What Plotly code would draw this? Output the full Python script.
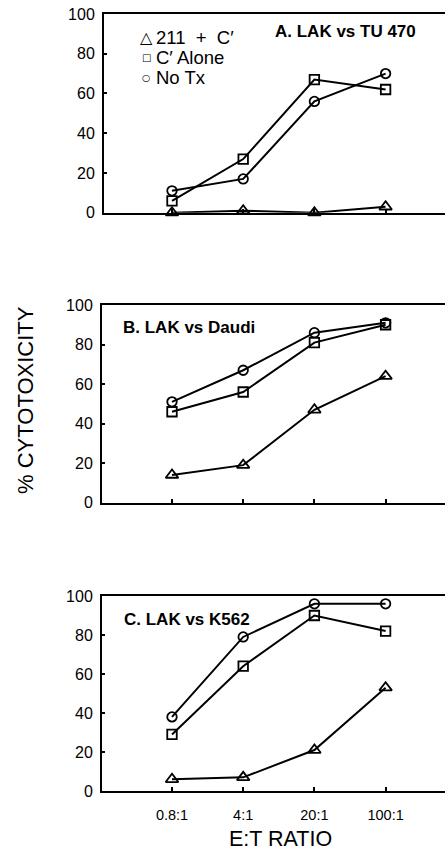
import plotly.graph_objects as go

ratios = ["0.8:1", "4:1", "20:1", "100:1"]
xpos = [1, 2, 3, 4]

series_names = ["211\u00a0\u00a0+\u00a0\u00a0C\u2032", "C\u2032 Alone", "No Tx"]
legend_glyphs = ["\u25B3", "\u25A1", "\u25CB"]
legend_glyph_sizes = [16, 10, 9.5]

# Panel A: LAK vs TU 470
a_211 = [0, 1, 0, 3]
a_calone = [6, 27, 67, 62]
a_notx = [11, 17, 56, 70]

# Panel B: LAK vs Daudi
b_211 = [14, 19, 47, 64]
b_calone = [46, 56, 81, 90]
b_notx = [51, 67, 86, 91]

# Panel C: LAK vs K562
c_211 = [6, 7, 21, 53]
c_calone = [29, 64, 90, 82]
c_notx = [38, 79, 96, 96]

panel_titles = ["A. LAK vs TU 470", "B. LAK vs Daudi", "C. LAK vs K562"]
yticks = [0, 20, 40, 60, 80, 100]

W, H = 445, 853
FONT = "Liberation Sans, Arial, Helvetica, sans-serif"

symbols = ["triangle-up-open", "square-open", "circle-open"]
sizes = [11, 9.5, 9.5]

panels = [
    (a_211, a_calone, a_notx),
    (b_211, b_calone, b_notx),
    (c_211, c_calone, c_notx),
]

# pixel geometry (top, bottom, left) for each panel
geom = [(14, 212.7, 104), (305, 502.7, 102), (596, 791, 102)]
spacing = 71.2
x1_px = 172

fig = go.Figure()

for i, (s211, scal, snotx) in enumerate(panels):
    ax = "" if i == 0 else str(i + 1)
    for name, vals, sym, sz in zip(series_names, (s211, scal, snotx), symbols, sizes):
        fig.add_trace(go.Scatter(
            x=xpos, y=vals, mode="lines+markers",
            name=name, showlegend=False,
            line=dict(color="black", width=2),
            marker=dict(symbol=sym, size=sz, color="black",
                        line=dict(color="black", width=1.8)),
            cliponaxis=False,
            xaxis="x" + ax, yaxis="y" + ax,
        ))

layout = dict(
    width=W, height=H,
    margin=dict(l=0, r=0, t=0, b=0, autoexpand=False),
    paper_bgcolor="white", plot_bgcolor="white",
    font=dict(family=FONT, color="black", size=15),
    showlegend=False,
)

annotations = []
for i, (top, bot, left) in enumerate(geom):
    ax = "" if i == 0 else str(i + 1)
    lo = 1 - (x1_px - left) / spacing
    hi = 1 + (W - x1_px) / spacing
    layout["xaxis" + ax] = dict(
        domain=[left / W, 1.0], range=[lo, hi],
        tickvals=xpos, ticktext=ratios if i == 2 else [""] * 4,
        showticklabels=(i == 2),
        ticks="inside", ticklen=4, tickwidth=1.5, tickcolor="black",
        showline=True, linecolor="black", linewidth=2, mirror=True,
        showgrid=False, zeroline=False, anchor="y" + ax, automargin=False,
        tickfont=dict(size=14.5, family=FONT), ticklabelstandoff=10,
    )
    layout["yaxis" + ax] = dict(
        domain=[1 - bot / H, 1 - top / H], range=[0, 100],
        tickvals=yticks,
        ticks="inside", ticklen=3, tickwidth=1.5, tickcolor="black",
        showline=True, linecolor="black", linewidth=2, mirror=False,
        showgrid=False, zeroline=False, anchor="x" + ax, automargin=False,
        tickfont=dict(size=16, family=FONT), ticklabelstandoff=4,
    )

title_pos = [(273, 32), (121, 327), (122, 619)]
for t, (px, py) in zip(panel_titles, title_pos):
    annotations.append(dict(
        text="<b>" + t + "</b>", xref="paper", yref="paper",
        x=px / W, y=1 - py / H, xanchor="left", yanchor="middle",
        showarrow=False, font=dict(size=17, family=FONT)))

# legend (text glyphs, as in the original figure)
leg_rows = [37, 57.5, 78]
for glyph, gsz, name, ry in zip(legend_glyphs, legend_glyph_sizes, series_names, leg_rows):
    annotations.append(dict(
        text="<b>" + glyph + "</b>", xref="paper", yref="paper",
        x=146 / W, y=1 - ry / H, xanchor="center", yanchor="middle",
        showarrow=False, font=dict(size=gsz, family="DejaVu Sans")))
    annotations.append(dict(
        text=name, xref="paper", yref="paper",
        x=154 / W, y=1 - ry / H, xanchor="left", yanchor="middle",
        showarrow=False, font=dict(size=18.5, family=FONT)))

annotations.append(dict(
    text="% CYTOTOXICITY", xref="paper", yref="paper",
    x=25 / W, y=1 - 400 / H, xanchor="center", yanchor="middle",
    textangle=-90, showarrow=False, font=dict(size=22, family=FONT)))

annotations.append(dict(
    text="E:T RATIO", xref="paper", yref="paper",
    x=280 / W, y=0, xanchor="center", yanchor="bottom",
    showarrow=False, font=dict(size=21.5, family=FONT)))

layout["annotations"] = annotations
fig.update_layout(**layout)
fig.write_html("out.html")
